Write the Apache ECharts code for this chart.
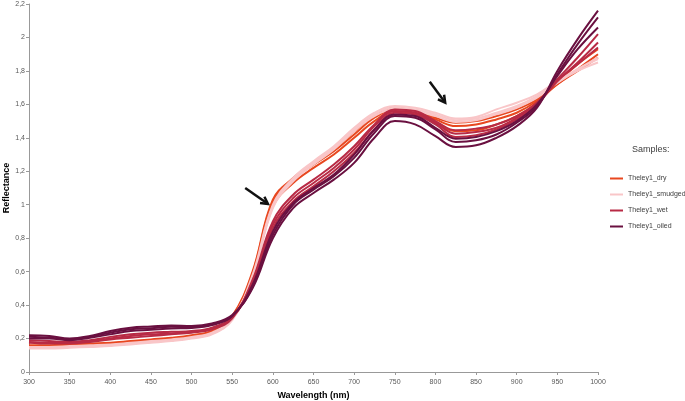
<!DOCTYPE html>
<html>
<head>
<meta charset="utf-8">
<script src="https://cdn.jsdelivr.net/npm/echarts@6/dist/echarts.min.js"></script>
<style>
  html, body { margin: 0; padding: 0; background: #fff; }
  #chart { width: 685px; height: 401px; }
</style>
</head>
<body>
<div id="chart"></div>
<script>
// wavelengths (nm)
var wavelengths = [300,325,350,375,400,425,450,475,500,525,550,575,600,625,650,675,700,725,750,775,800,825,850,875,900,925,950,975,1000];

// reflectance, three scans per sample
var dryScans = [
  [.155,.155,.16,.165,.17,.18,.19,.20,.215,.24,.33,.59,1.02,1.15,1.24,1.32,1.42,1.52,1.57,1.55,1.51,1.47,1.48,1.51,1.55,1.62,1.72,1.81,1.90],
  [.145,.145,.15,.155,.16,.17,.18,.19,.205,.23,.32,.57,.99,1.13,1.22,1.30,1.40,1.50,1.56,1.54,1.49,1.44,1.445,1.48,1.53,1.61,1.73,1.84,1.93],
  [.16,.16,.165,.17,.175,.185,.195,.205,.22,.245,.335,.60,1.03,1.16,1.25,1.33,1.44,1.53,1.58,1.56,1.52,1.49,1.50,1.53,1.57,1.63,1.72,1.80,1.88]
];
var smudgedScans = [
  [.15,.15,.155,.16,.165,.175,.185,.195,.21,.235,.32,.58,1.00,1.16,1.26,1.35,1.46,1.55,1.59,1.58,1.55,1.515,1.525,1.57,1.61,1.66,1.74,1.81,1.87],
  [.145,.145,.15,.155,.16,.17,.18,.19,.205,.23,.315,.57,.99,1.15,1.25,1.34,1.45,1.54,1.58,1.57,1.54,1.505,1.515,1.55,1.59,1.65,1.73,1.80,1.85],
  [.14,.14,.145,.15,.155,.165,.175,.185,.20,.225,.31,.56,.98,1.14,1.24,1.33,1.44,1.53,1.57,1.56,1.53,1.495,1.505,1.54,1.58,1.64,1.73,1.81,1.88]
];
var wetScans = [
  [.19,.185,.18,.19,.21,.225,.235,.24,.245,.265,.33,.54,.88,1.04,1.13,1.22,1.33,1.47,1.56,1.55,1.49,1.425,1.435,1.46,1.52,1.61,1.75,1.88,2.02],
  [.18,.175,.175,.185,.20,.215,.225,.23,.24,.26,.325,.53,.86,1.02,1.11,1.20,1.31,1.45,1.55,1.54,1.48,1.405,1.415,1.45,1.51,1.60,1.74,1.85,1.97],
  [.175,.17,.17,.18,.195,.205,.215,.225,.235,.255,.32,.55,.90,1.06,1.15,1.24,1.35,1.48,1.57,1.56,1.50,1.445,1.455,1.48,1.53,1.61,1.74,1.84,1.94]
];
var oiledScans = [
  [.22,.215,.20,.215,.245,.265,.272,.278,.275,.29,.34,.50,.80,.98,1.07,1.15,1.25,1.40,1.50,1.48,1.41,1.345,1.355,1.40,1.47,1.58,1.80,1.99,2.16],
  [.21,.205,.195,.21,.235,.255,.262,.27,.268,.285,.335,.51,.82,1.00,1.09,1.17,1.28,1.43,1.53,1.52,1.45,1.375,1.385,1.42,1.49,1.59,1.78,1.96,2.12],
  [.20,.20,.19,.205,.225,.245,.252,.26,.263,.28,.335,.52,.84,1.01,1.10,1.18,1.30,1.45,1.54,1.53,1.46,1.395,1.405,1.44,1.50,1.60,1.77,1.93,2.06]
];

var sampleNames = ['Theley1_dry', 'Theley1_smudged', 'Theley1_wet', 'Theley1_oiled'];
var sampleColors = ['#e8471f', '#f9c6c8', '#b82a45', '#6a1040'];
var allScans = [dryScans, smudgedScans, wetScans, oiledScans];

// arrow annotations: [tail, head] in (nm, reflectance)
var arrowNotes = [
  [[566, 1.10], [594, 1.005]],
  [[793, 1.735], [812, 1.61]]
];

var series = [];
for (var s = 0; s < allScans.length; s++) {
  for (var r = 0; r < allScans[s].length; r++) {
    var pts = [];
    for (var i = 0; i < wavelengths.length; i++) {
      pts.push([wavelengths[i], allScans[s][r][i]]);
    }
    series.push({
      name: sampleNames[s],
      type: 'line',
      data: pts,
      smooth: 0.4,
      showSymbol: false,
      silent: true,
      color: sampleColors[s],
      lineStyle: { width: 2, color: sampleColors[s] }
    });
  }
}

function commaNum(v) {
  return String(Math.round(v * 10) / 10).replace('.', ',');
}

var myChart = echarts.init(document.getElementById('chart'));
myChart.setOption({
  animation: false,
  textStyle: { fontFamily: 'Liberation Sans' },
  title: {
    text: 'Samples:',
    left: 627,
    top: 140,
    textStyle: { fontSize: 9, fontWeight: 'normal', color: '#404040' }
  },
  legend: {
    data: sampleNames,
    orient: 'vertical',
    left: 610,
    top: 173,
    padding: 0,
    icon: 'rect',
    itemWidth: 13,
    itemHeight: 2,
    itemGap: 5,
    textStyle: { fontSize: 7, color: '#404040', lineHeight: 11 }
  },
  grid: { left: 29, right: 87, top: 4, bottom: 29, outerBoundsMode: 'none' },
  xAxis: {
    type: 'value',
    min: 300,
    max: 1000,
    interval: 50,
    name: 'Wavelength (nm)',
    nameLocation: 'middle',
    nameGap: 19,
    nameMoveOverlap: false,
    nameTextStyle: { fontSize: 9, fontWeight: 'bold', color: '#000' },
    axisLine: { lineStyle: { color: '#999' } },
    axisTick: { length: 3, lineStyle: { color: '#999' } },
    axisLabel: { fontSize: 7, color: '#595959', margin: 7, formatter: function (v) { return String(v); } },
    splitLine: { show: false }
  },
  yAxis: {
    type: 'value',
    min: 0,
    max: 2.2,
    interval: 0.2,
    name: 'Reflectance',
    nameLocation: 'middle',
    nameGap: 18,
    nameMoveOverlap: false,
    nameTextStyle: { fontSize: 9, fontWeight: 'bold', color: '#000' },
    axisLine: { show: true, lineStyle: { color: '#999' } },
    axisTick: { show: true, length: 3, lineStyle: { color: '#999' } },
    axisLabel: { fontSize: 7, color: '#595959', margin: 4, formatter: commaNum },
    splitLine: { show: false }
  },
  series: series
});

// draw the two arrows at data positions
var arrowShapes = [];
arrowNotes.forEach(function (a) {
  var p0 = myChart.convertToPixel({ gridIndex: 0 }, a[0]);
  var p1 = myChart.convertToPixel({ gridIndex: 0 }, a[1]);
  var ang = Math.atan2(p1[1] - p0[1], p1[0] - p0[0]);
  var hl = 8, hw = 0.5;
  var l = [p1[0] - hl * Math.cos(ang - hw), p1[1] - hl * Math.sin(ang - hw)];
  var rr = [p1[0] - hl * Math.cos(ang + hw), p1[1] - hl * Math.sin(ang + hw)];
  arrowShapes.push({
    type: 'line',
    shape: { x1: p0[0], y1: p0[1], x2: p1[0] - 2 * Math.cos(ang), y2: p1[1] - 2 * Math.sin(ang) },
    style: { stroke: '#111', lineWidth: 2.5 }
  });
  arrowShapes.push({
    type: 'polyline',
    shape: { points: [l, p1, rr] },
    style: { stroke: '#111', lineWidth: 2.5, fill: null, lineJoin: 'miter' }
  });
});
myChart.setOption({ graphic: arrowShapes });
</script>
</body>
</html>
